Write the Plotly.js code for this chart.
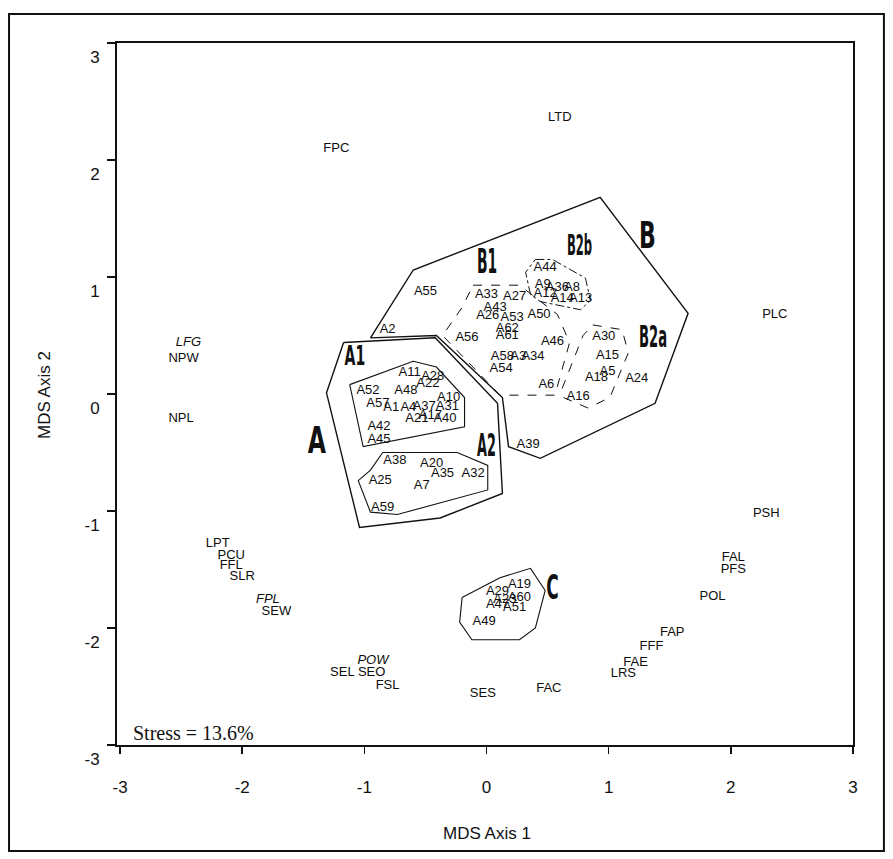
<!DOCTYPE html>
<html><head><meta charset="utf-8">
<script src="https://cdn.plot.ly/plotly-3.0.1.min.js"></script>
<style>body{margin:0;background:#fff}#chart{width:893px;height:859px}</style>
</head><body><div id="chart"></div>
<script>
// Environmental variables
var envNames = ['LTD','FPC','PLC','LFG','NPW','NPL','LPT','PCU','FFL','SLR','FPL','SEW','POW','SEL','SEO','FSL','SES','FAC','LRS','FAE','FFF','FAP','PSH','FAL','PFS','POL'];
var envX = [0.60,-1.23,2.36,-2.44,-2.48,-2.50,-2.20,-2.09,-2.09,-2.00,-1.79,-1.72,-0.93,-1.18,-0.94,-0.81,-0.03,0.51,1.12,1.22,1.35,1.52,2.29,2.02,2.02,1.85];
var envY = [2.36,2.10,0.68,0.44,0.30,-0.21,-1.28,-1.38,-1.47,-1.56,-1.76,-1.86,-2.28,-2.38,-2.38,-2.49,-2.56,-2.52,-2.39,-2.30,-2.16,-2.04,-1.02,-1.40,-1.50,-1.73];
var italicNames = ['LFG','FPL','POW'];

// Sites
var siteNames = ['A2','A11','A28','A22','A52','A48','A10','A57','A1','A4','A37','A31','A21','A17','A40','A42','A45','A38','A20','A35','A32','A25','A7','A59',
  'A55','A33','A27','A43','A26','A53','A50','A62','A61','A56','A46','A58','A3','A34','A54','A6','A39',
  'A44','A9','A36','A8','A12','A14','A13',
  'A30','A15','A5','A18','A24','A16',
  'A29','A19','A60','A23','A47','A51','A49'];
var siteX = [-0.81,-0.63,-0.44,-0.48,-0.97,-0.66,-0.31,-0.89,-0.78,-0.64,-0.51,-0.32,-0.57,-0.46,-0.34,-0.88,-0.88,-0.75,-0.45,-0.36,-0.11,-0.87,-0.53,-0.85,
  -0.50,0.00,0.23,0.07,0.01,0.21,0.43,0.17,0.17,-0.16,0.54,0.13,0.26,0.38,0.12,0.49,0.34,
  0.48,0.46,0.58,0.70,0.48,0.62,0.77,
  0.96,0.99,0.99,0.90,1.23,0.75,
  0.09,0.27,0.27,0.15,0.09,0.23,-0.02];
var siteY = [0.55,0.18,0.15,0.09,0.03,0.03,-0.03,-0.08,-0.12,-0.12,-0.11,-0.11,-0.21,-0.19,-0.21,-0.28,-0.39,-0.57,-0.60,-0.68,-0.68,-0.74,-0.78,-0.97,
  0.87,0.85,0.83,0.74,0.67,0.65,0.68,0.56,0.50,0.48,0.45,0.32,0.32,0.32,0.22,0.08,-0.43,
  1.08,0.93,0.91,0.91,0.86,0.81,0.81,
  0.49,0.33,0.19,0.14,0.13,-0.02,
  -1.69,-1.63,-1.74,-1.76,-1.80,-1.83,-1.95];

// Group labels
var groupNames = ['A','B','C','A1','A2','B1','B2a','B2b'];
var groupX = [-1.39,1.32,0.54,-1.08,0.00,0.00,1.36,0.76];
var groupY = [-0.39,1.36,-1.65,0.33,-0.44,1.13,0.49,1.27];

// Cluster outlines
var polyA_x = [-1.17,-0.42,0.09,0.13,-0.38,-1.04,-1.31];
var polyA_y = [0.44,0.48,-0.08,-0.85,-1.06,-1.14,0.01];
var polyB_x = [-0.95,-0.41,0.13,0.18,0.44,1.38,1.65,0.93,-0.60];
var polyB_y = [0.48,0.50,-0.03,-0.45,-0.55,-0.08,0.69,1.68,1.06];
var polyC_x = [-0.20,0.11,0.36,0.48,0.40,0.27,-0.12,-0.22];
var polyC_y = [-1.74,-1.57,-1.49,-1.68,-2.00,-2.10,-2.10,-1.95];
var polyA1_x = [-1.12,-0.60,-0.41,-0.18,-0.18,-1.01];
var polyA1_y = [0.08,0.28,0.23,-0.03,-0.28,-0.45];
var polyA2_x = [-0.85,-0.24,0.01,0.01,-0.73,-0.95,-1.05,-0.95];
var polyA2_y = [-0.50,-0.50,-0.61,-0.82,-1.03,-1.01,-0.74,-0.65];
var polyB1_x = [-0.11,0.27,0.58,0.68,0.56,0.11,-0.36,-0.20];
var polyB1_y = [0.93,0.93,0.68,0.44,-0.01,-0.01,0.50,0.74];
var polyB2a_x = [0.87,1.11,1.16,1.01,0.83,0.63,0.62,0.79];
var polyB2a_y = [0.59,0.55,0.35,-0.03,-0.12,-0.03,0.05,0.50];
var polyB2b_x = [0.40,0.54,0.81,0.85,0.77,0.44,0.36,0.32];
var polyB2b_y = [1.15,1.15,0.99,0.80,0.72,0.79,0.85,1.04];

var xTicks = [-3,-2,-1,0,1,2,3];
var yTicks = [-3,-2,-1,0,1,2,3];

// ---- styling (kept separate from data) ----
var groupStyle = {
  'A':   {size:38, sx:0.62},
  'B':   {size:38, sx:0.58},
  'C':   {size:34, sx:0.50},
  'A1':  {size:27, sx:0.52},
  'A2':  {size:32, sx:0.40},
  'B1':  {size:33, sx:0.42},
  'B2a': {size:30, sx:0.44},
  'B2b': {size:29, sx:0.40}
};

function closed(a){ return a.concat([a[0]]); }
function poly(xs, ys, dash, w){
  return {x: closed(xs), y: closed(ys), mode:'lines', type:'scatter', hoverinfo:'skip',
    line:{color:'#111', width:w, dash:dash}, showlegend:false};
}

var labelFont = {family:'Liberation Sans, Arial, sans-serif', size:13, color:'#0d0d0d'};
var traces = [
  poly(polyA_x, polyA_y, 'solid', 1.4),
  poly(polyB_x, polyB_y, 'solid', 1.4),
  poly(polyC_x, polyC_y, 'solid', 1.1),
  poly(polyA1_x, polyA1_y, 'solid', 1.1),
  poly(polyA2_x, polyA2_y, 'solid', 1.1),
  poly(polyB1_x, polyB1_y, 'dash', 1.0),
  poly(polyB2a_x, polyB2a_y, 'dash', 1.0),
  poly(polyB2b_x, polyB2b_y, 'dashdot', 1.0),
  {x: envX, y: envY, mode:'text', type:'scatter', showlegend:false, hoverinfo:'text',
   text: envNames.map(function(n){ return italicNames.indexOf(n) >= 0 ? '<i>'+n+'</i>' : n; }),
   textposition:'middle center', textfont: labelFont},
  {x: siteX, y: siteY, mode:'text', type:'scatter', showlegend:false, hoverinfo:'text',
   text: siteNames, textposition:'middle center', textfont: labelFont}
];

var annotations = groupNames.map(function(n, i){
  return {x: groupX[i], y: groupY[i], xref:'x', yref:'y', text: n, showarrow:false,
    xanchor:'center', yanchor:'middle',
    font:{family:'DejaVu Sans, sans-serif', size: groupStyle[n].size, color:'#111', weight:'bold'}};
});
annotations.push({x:0.503, y:-0.1254, xref:'paper', yref:'paper', xanchor:'center', yanchor:'middle', text:'MDS Axis 1', showarrow:false,
  font:{family:'Liberation Sans, Arial, sans-serif', size:17, color:'#111'}});
annotations.push({x:-0.0978, y:0.4986, xref:'paper', yref:'paper', xanchor:'center', yanchor:'middle', text:'MDS Axis 2', showarrow:false, textangle:-90,
  font:{family:'Liberation Sans, Arial, sans-serif', size:17, color:'#111'}});
annotations.push({x:0.019, y:0.017, xref:'paper', yref:'paper', xanchor:'left', yanchor:'middle', text:'Stress = 13.6%', showarrow:false,
  font:{family:'Liberation Serif, Times New Roman, serif', size:20, color:'#111'}});

var layout = {
  width: 893, height: 859,
  margin: {l:117, r:40, t:43, b:114, pad:0},
  paper_bgcolor:'#fff', plot_bgcolor:'#fff',
  showlegend:false,
  xaxis: {range:[-3.025, 3], tickvals:xTicks, ticktext:xTicks.map(String), ticks:'outside', ticklen:7, tickwidth:1.5, tickcolor:'#111',
    showline:true, mirror:true, linewidth:2, linecolor:'#111', showgrid:false, zeroline:false,
    ticklabelstandoff:19, tickfont:{family:'Liberation Sans, Arial, sans-serif', size:17, color:'#111'}},
  yaxis: {range:[-3, 3], tickvals:yTicks, ticktext:yTicks.map(String), ticks:'outside', ticklen:8, tickwidth:1.5, tickcolor:'#111',
    showline:true, mirror:true, linewidth:2, linecolor:'#111', showgrid:false, zeroline:false,
    ticklabelshift:14, ticklabelstandoff:4, tickfont:{family:'Liberation Sans, Arial, sans-serif', size:17, color:'#111'}},
  annotations: annotations,
  shapes: [{type:'rect', xref:'paper', yref:'paper', x0:-0.1467, x1:1.042, y0:-0.151, y1:1.0413,
    line:{color:'#111', width:2}, fillcolor:'rgba(0,0,0,0)'}]
};

Plotly.newPlot('chart', traces, layout, {staticPlot:true, displayModeBar:false}).then(function(gd){
  // condense the cluster labels horizontally (the original uses a very narrow bold face)
  var anns = gd.querySelectorAll('g.annotation');
  anns.forEach(function(g){
    var t = g.querySelector('text.annotation-text');
    if(!t) return;
    var s = groupStyle[t.textContent];
    if(!s) return;
    t.style.transformBox = 'fill-box';
    t.style.transformOrigin = 'center';
    t.style.transform = 'scaleX(' + s.sx + ')';
  });
});
</script></body></html>
